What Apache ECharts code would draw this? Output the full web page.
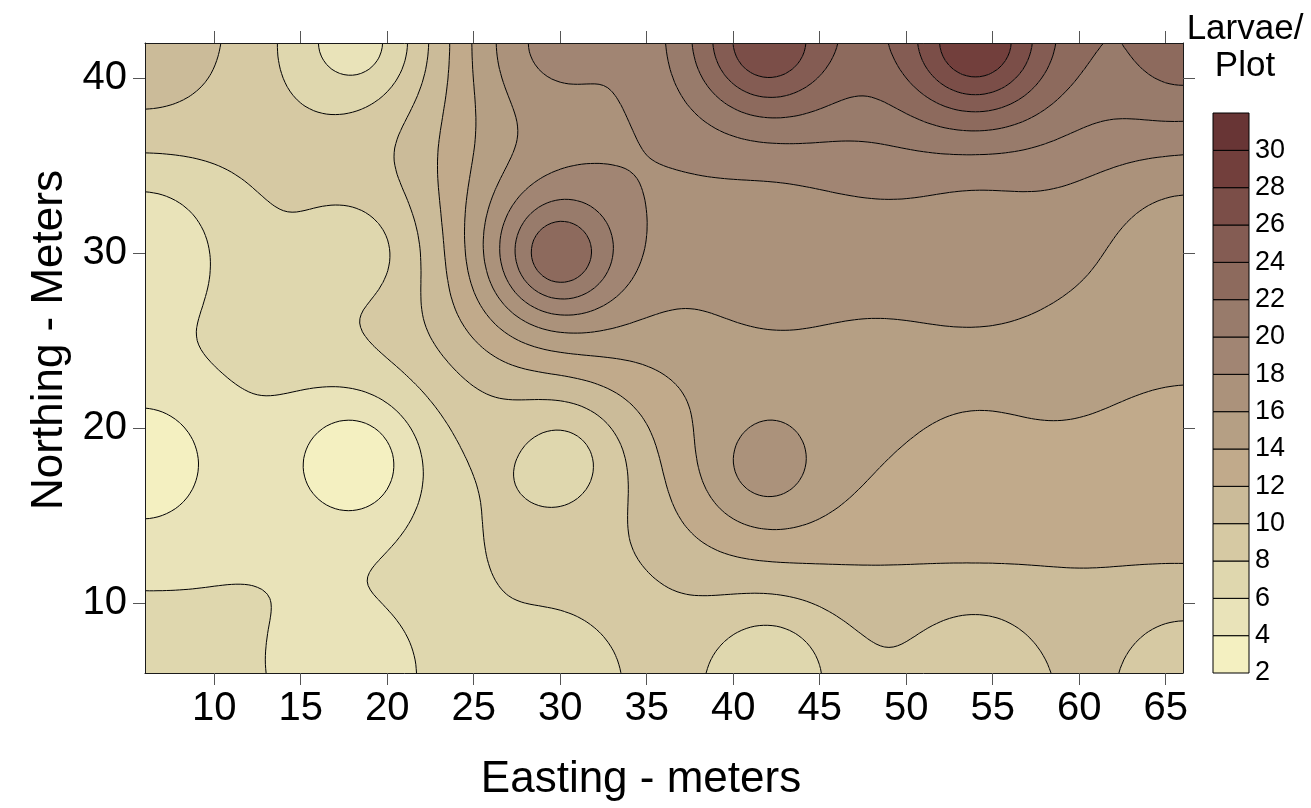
<!DOCTYPE html>
<html><head><meta charset="utf-8">
<script src="https://cdn.jsdelivr.net/npm/echarts@6/dist/echarts.min.js"></script>
<style>html,body{margin:0;padding:0;background:#fff}#chart{width:1311px;height:808px}</style>
</head><body><div id="chart"></div>
<script>
// ---- data (larvae per plot at each sampling plot) ----
const eastings  = [6, 18, 30, 42, 54, 66];
const northings = [6, 18, 30, 42];
const larvaeN6  = [6.3, 4.5, 7, 6.3, 8.5, 9];
const larvaeN18 = [2.5, 2.2, 7, 17, 13.6, 13.2];
const larvaeN30 = [4, 7, 23.8, 17, 17, 14.8];
const larvaeN42 = [11.5, 5, 18.7, 27.8, 29.9, 23];
const larvaeRows = [larvaeN6, larvaeN18, larvaeN30, larvaeN42];
const levels = [2, 4, 6, 8, 10, 12, 14, 16, 18, 20, 22, 24, 26, 28, 30, 32];
const bandColors = ['#f4f0c1', '#e9e3b9', '#dfd7ae', '#d6c9a3', '#cbbb99', '#c1aa8b', '#b59f84',
  '#ab927b', '#a18573', '#987b6b', '#8d6a5d', '#845c53', '#7b4e48', '#723f3c', '#683535'];
const xTicks = [10, 15, 20, 25, 30, 35, 40, 45, 50, 55, 60, 65];
const yTicks = [10, 20, 30, 40];
const colorbarTicks = [2, 4, 6, 8, 10, 12, 14, 16, 18, 20, 22, 24, 26, 28, 30];

// ---- gridding of the plot values (inverse distance weighting) ----
const samples = [];
northings.forEach((y, j) => eastings.forEach((x, i) => samples.push([x, y, larvaeRows[j][i]])));
const X0 = eastings[0], X1 = eastings[eastings.length - 1];
const Y0 = northings[0], Y1 = northings[northings.length - 1];
const STEP = 0.25;
const nx = Math.round((X1 - X0) / STEP) + 1, ny = Math.round((Y1 - Y0) / STEP) + 1;
const gx = [], gy = [];
for (let i = 0; i < nx; i++) gx.push(X0 + i * STEP);
for (let j = 0; j < ny; j++) gy.push(Y0 + j * STEP);
const grid = new Float64Array(nx * ny);
for (let j = 0; j < ny; j++) for (let i = 0; i < nx; i++) {
  let sw = 0, sv = 0, exact = null;
  for (const s of samples) {
    const d2 = (gx[i] - s[0]) ** 2 + (gy[j] - s[1]) ** 2;
    if (d2 < 1e-9) { exact = s[2]; break; }
    const w = 1 / d2; sw += w; sv += w * s[2];
  }
  grid[j * nx + i] = exact !== null ? exact : sv / sw;
}
const NB = bandColors.length;
function bandOf(v) { let k = 0; while (k < NB - 1 && v >= levels[k + 1]) k++; return k; }
function clipPoly(poly, t, keepAbove) {
  const out = [], n = poly.length;
  for (let i = 0; i < n; i++) {
    const a = poly[i], b = poly[(i + 1) % n];
    const ia = keepAbove ? a[2] >= t : a[2] < t;
    const ib = keepAbove ? b[2] >= t : b[2] < t;
    if (ia) out.push(a);
    if (ia !== ib) { const f = (t - a[2]) / (b[2] - a[2]); out.push([a[0] + f * (b[0] - a[0]), a[1] + f * (b[1] - a[1]), t]); }
  }
  return out;
}
const f1 = v => v.toFixed(1);
function polyPath(pts) { return 'M' + pts.map(p => f1(p[0]) + ' ' + f1(p[1])).join('L') + 'Z'; }

function renderContour(params, api) {
  const px = gx.map(x => api.coord([x, Y0])[0]);
  const py = gy.map(y => api.coord([X0, y])[1]);
  const bands = bandColors.map(() => []);
  const lines = [];
  for (let j = 0; j < ny - 1; j++) {
    let runK = -1, runStart = 0;
    const flush = (iEnd) => {
      if (runK < 0) return;
      const xa = px[runStart], xb = px[iEnd], ya = py[j], yb = py[j + 1];
      bands[runK].push('M' + f1(xa) + ' ' + f1(ya) + 'L' + f1(xb) + ' ' + f1(ya) + 'L' + f1(xb) + ' ' + f1(yb) + 'L' + f1(xa) + ' ' + f1(yb) + 'Z');
      runK = -1;
    };
    for (let i = 0; i < nx - 1; i++) {
      const v00 = grid[j * nx + i], v10 = grid[j * nx + i + 1], v11 = grid[(j + 1) * nx + i + 1], v01 = grid[(j + 1) * nx + i];
      const mn = Math.min(v00, v10, v11, v01), mx = Math.max(v00, v10, v11, v01);
      const kmin = bandOf(mn), kmax = bandOf(mx);
      if (kmin === kmax) {
        if (runK !== kmin) { flush(i); runK = kmin; runStart = i; }
        continue;
      }
      flush(i);
      const cs = [[px[i], py[j], v00], [px[i + 1], py[j], v10], [px[i + 1], py[j + 1], v11], [px[i], py[j + 1], v01]];
      for (let k = kmin; k <= kmax; k++) {
        let poly = cs;
        if (k > 0) poly = clipPoly(poly, levels[k], true);
        if (poly.length > 2 && k < NB - 1) poly = clipPoly(poly, levels[k + 1], false);
        if (poly.length > 2) bands[k].push(polyPath(poly));
      }
      for (let k = 1; k < NB; k++) {
        const L = levels[k];
        if (mn >= L || mx < L) continue;
        const pts = [];
        for (let e = 0; e < 4; e++) {
          const a = cs[e], b = cs[(e + 1) % 4];
          if ((a[2] >= L) !== (b[2] >= L)) {
            const f = (L - a[2]) / (b[2] - a[2]);
            pts.push([a[0] + f * (b[0] - a[0]), a[1] + f * (b[1] - a[1])]);
          }
        }
        const seg = (p, q) => lines.push('M' + f1(p[0]) + ' ' + f1(p[1]) + 'L' + f1(q[0]) + ' ' + f1(q[1]));
        if (pts.length === 2) seg(pts[0], pts[1]);
        else if (pts.length === 4) {
          const c = (v00 + v10 + v11 + v01) / 4;
          if ((c >= L) === (v00 >= L)) { seg(pts[0], pts[1]); seg(pts[2], pts[3]); }
          else { seg(pts[3], pts[0]); seg(pts[1], pts[2]); }
        }
      }
    }
    flush(nx - 1);
  }
  const children = [];
  bands.forEach((arr, k) => { if (arr.length) children.push({ type: 'path', shape: { pathData: arr.join('') }, style: { fill: bandColors[k] } }); });
  children.push({ type: 'path', shape: { pathData: lines.join('') }, style: { fill: 'none', stroke: '#000', lineWidth: 1 } });
  return { type: 'group', children };
}

function renderColorbar(params, api) {
  const lo = api.coord([0, api.value(1)]), hi = api.coord([0, api.value(2)]);
  const w = api.size([1, 0])[0];
  return { type: 'rect', shape: { x: lo[0] - w / 2, y: hi[1], width: w, height: lo[1] - hi[1] },
    style: { fill: bandColors[params.dataIndex], stroke: '#000', lineWidth: 1 } };
}

const FONT = '"Liberation Sans", Arial, sans-serif';
const frame = { show: true, lineStyle: { color: '#1a1a1a', width: 1 } };
const tickStyle = { color: '#555', width: 1 };
const chart = echarts.init(document.getElementById('chart'), null, { renderer: 'canvas' });
chart.setOption({
  animation: false,
  backgroundColor: '#fff',
  textStyle: { fontFamily: FONT },
  grid: [
    { left: 145, top: 43, width: 1038, height: 630 },
    { left: 1213, top: 113, width: 36, height: 560 }
  ],
  xAxis: [
    { type: 'value', gridIndex: 0, min: X0, max: X1, position: 'bottom', z: 10,
      axisLine: frame, splitLine: { show: false },
      axisTick: { show: true, length: 12, lineStyle: tickStyle, customValues: xTicks },
      axisLabel: { fontSize: 40, color: '#000', margin: 16, fontFamily: FONT, customValues: xTicks } },
    { type: 'value', gridIndex: 0, min: X0, max: X1, position: 'top', z: 10,
      axisLine: frame, splitLine: { show: false },
      axisTick: { show: true, length: 12, lineStyle: tickStyle, customValues: xTicks },
      axisLabel: { show: false } },
    { type: 'category', gridIndex: 1, data: [''], show: false }
  ],
  yAxis: [
    { type: 'value', gridIndex: 0, min: Y0, max: Y1, position: 'left', z: 10,
      axisLine: frame, splitLine: { show: false },
      axisTick: { show: true, length: 12, lineStyle: tickStyle, customValues: yTicks },
      axisLabel: { fontSize: 40, color: '#000', margin: 18, fontFamily: FONT, customValues: yTicks } },
    { type: 'value', gridIndex: 0, min: Y0, max: Y1, position: 'right', z: 10,
      axisLine: frame, splitLine: { show: false },
      axisTick: { show: true, length: 12, lineStyle: tickStyle, customValues: yTicks },
      axisLabel: { show: false } },
    { type: 'value', gridIndex: 1, min: levels[0], max: levels[levels.length - 1], position: 'right',
      axisLine: { show: false }, axisTick: { show: false }, splitLine: { show: false },
      axisLabel: { fontSize: 27, color: '#000', margin: 6, padding: [7, 0, 0, 0], fontFamily: FONT, customValues: colorbarTicks } }
  ],
  graphic: [
    { type: 'text', x: 641, y: 780, style: { text: 'Easting - meters', font: '44px ' + FONT, fill: '#000', align: 'center', verticalAlign: 'middle' } },
    { type: 'text', x: 50, y: 340, rotation: Math.PI / 2,
      style: { text: 'Northing - Meters', font: '44px ' + FONT, fill: '#000', align: 'center', verticalAlign: 'middle' } },
    { type: 'text', x: 1245, y: 29, style: { text: 'Larvae/', font: '35px ' + FONT, fill: '#000', align: 'center', verticalAlign: 'middle' } },
    { type: 'text', x: 1245, y: 66, style: { text: 'Plot', font: '35px ' + FONT, fill: '#000', align: 'center', verticalAlign: 'middle' } }
  ],
  series: [
    { type: 'custom', xAxisIndex: 0, yAxisIndex: 0, data: [[X0, Y0]], clip: true, silent: true,
      renderItem: renderContour },
    { type: 'custom', xAxisIndex: 2, yAxisIndex: 2, silent: true, clip: false,
      encode: { x: 0, y: [1, 2] },
      data: levels.slice(0, -1).map((lo, k) => [0, lo, levels[k + 1]]),
      renderItem: renderColorbar }
  ]
});
</script></body></html>
